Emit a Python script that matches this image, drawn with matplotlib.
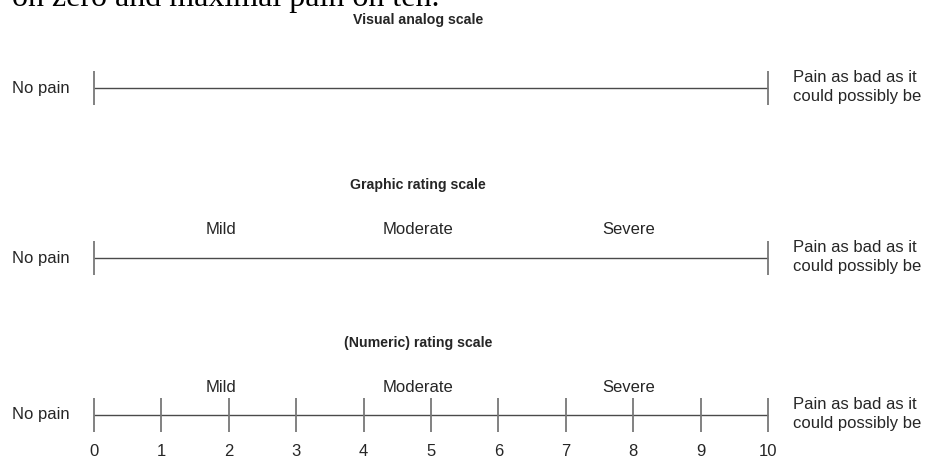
import matplotlib
matplotlib.use("Agg")
import matplotlib.pyplot as plt

# ---- data ----
scale_min, scale_max = 0, 10
numeric_ticks = list(range(0, 11))
scale_titles = ["Visual analog scale", "Graphic rating scale", "(Numeric) rating scale"]
category_labels = ["Mild", "Moderate", "Severe"]
category_pos = [1.88, 4.81, 7.94]
left_label = "No pain"
right_label = "Pain as bad as it\ncould possibly be"
caption_fragment = "on zero and maximal pain on ten."

W, H = 925, 463
fig = plt.figure(figsize=(W / 100, H / 100), dpi=100)
ax = fig.add_axes([0, 0, 1, 1])
px_per_unit = (768 - 94) / 10.0
ax.set_xlim(-94 / px_per_unit, (W - 94) / px_per_unit)
ax.set_ylim(H, 0)
ax.axis("off")

sans = ["Liberation Sans", "DejaVu Sans"]
line_c = "#4a4a4a"
tick_c = "#777777"
text_c = "#262626"
fs = 12

# caption fragment (cut off at top in the reference)
ax.text(-82 / px_per_unit, 6, caption_fragment, family="Liberation Serif",
        fontsize=23, color="black", ha="left", va="baseline")

rows = [  # (title_y, cat_y, line_y, ticks)
    (20, None, 88, [scale_min, scale_max]),
    (185, 229, 258, [scale_min, scale_max]),
    (343, 388, 415, numeric_ticks),
]
title_x = (418 - 94) / px_per_unit
for (ty, cy, ly, ticks), title in zip(rows, scale_titles):
    ax.text(title_x, ty, title, family=sans, fontsize=10.2, fontweight="bold",
            color=text_c, ha="center", va="center")
    ax.plot([scale_min, scale_max], [ly, ly], color=line_c, lw=1.0, solid_capstyle="butt")
    for t in ticks:
        ax.plot([t, t], [ly - 17, ly + 17], color=tick_c, lw=1.3, solid_capstyle="butt")
    if cy is not None:
        for lab, p in zip(category_labels, category_pos):
            ax.text(p, cy, lab, family=sans, fontsize=fs, color=text_c, ha="center", va="center")
    ax.text(-82 / px_per_unit, ly, left_label, family=sans, fontsize=fs, color=text_c,
            ha="left", va="center")
    ax.text(scale_max + 25 / px_per_unit, ly - 1, right_label, family=sans, fontsize=fs,
            color=text_c, ha="left", va="center", linespacing=1.3)

for t in numeric_ticks:
    ax.text(t, 451, str(t), family=sans, fontsize=fs, color=text_c, ha="center", va="center")

fig.savefig("out.png", dpi=100, facecolor="white")
